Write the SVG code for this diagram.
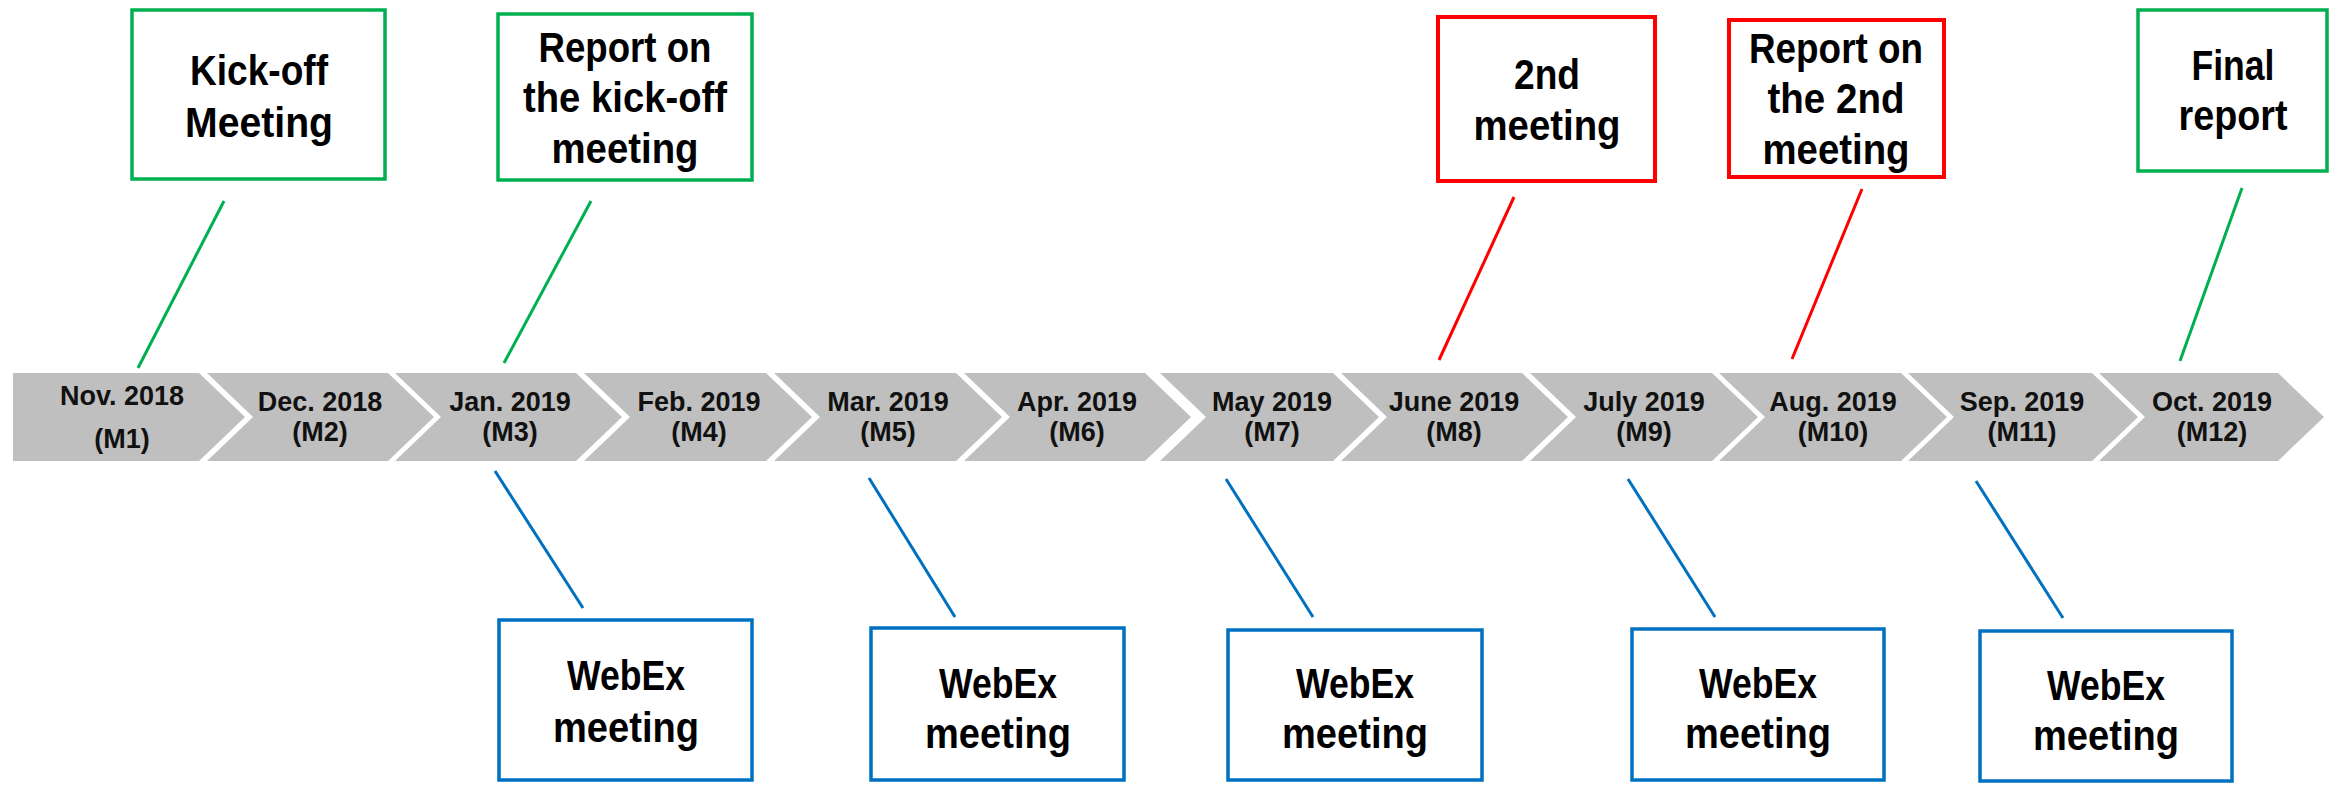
<svg xmlns="http://www.w3.org/2000/svg" width="2340" height="786" viewBox="0 0 2340 786">
<style>
.bg{fill:#ffffff}
.chev{fill:#bfbfbf}
.ct{font-family:"Liberation Sans","Arial",sans-serif;font-weight:bold;font-size:27px;fill:#111;text-anchor:middle}
.bt{font-family:"Liberation Sans","Arial",sans-serif;font-weight:bold;font-size:42px;fill:#000;text-anchor:middle}
.g{fill:#fff;stroke:#00b050;stroke-width:3.5}
.r{fill:#fff;stroke:#ff0000;stroke-width:4}
.b{fill:#fff;stroke:#0070c0;stroke-width:3.5}
.lg{stroke:#00b050;stroke-width:3;fill:none}
.lr{stroke:#ff0000;stroke-width:3;fill:none}
.lb{stroke:#0070c0;stroke-width:3;fill:none}
</style>
<rect class="bg" x="0" y="0" width="2340" height="786"/>
<g id="timeline">
<polygon class="chev" points="13,373 199,373 245,417 199,461 13,461"/>
<polygon class="chev" points="207,373 388,373 434,417 388,461 207,461 253,417"/>
<polygon class="chev" points="395,373 576,373 622,417 576,461 395,461 441,417"/>
<polygon class="chev" points="584,373 766,373 812,417 766,461 584,461 630,417"/>
<polygon class="chev" points="774,373 956,373 1002,417 956,461 774,461 820,417"/>
<polygon class="chev" points="964,373 1145,373 1191,417 1145,461 964,461 1010,417"/>
<polygon class="chev" points="1160,373 1333,373 1379,417 1333,461 1160,461 1206,417"/>
<polygon class="chev" points="1341,373 1522,373 1568,417 1522,461 1341,461 1387,417"/>
<polygon class="chev" points="1530,373 1712,373 1758,417 1712,461 1530,461 1576,417"/>
<polygon class="chev" points="1719,373 1901,373 1947,417 1901,461 1719,461 1765,417"/>
<polygon class="chev" points="1908,373 2092,373 2138,417 2092,461 1908,461 1954,417"/>
<polygon class="chev" points="2099,373 2278,373 2324,417 2278,461 2099,461 2145,417"/>
<text class="ct" x="122" y="405">Nov. 2018</text><text class="ct" x="122" y="448">(M1)</text>
<text class="ct" x="320" y="411">Dec. 2018</text><text class="ct" x="320" y="441">(M2)</text>
<text class="ct" x="510" y="411">Jan. 2019</text><text class="ct" x="510" y="441">(M3)</text>
<text class="ct" x="699" y="411">Feb. 2019</text><text class="ct" x="699" y="441">(M4)</text>
<text class="ct" x="888" y="411">Mar. 2019</text><text class="ct" x="888" y="441">(M5)</text>
<text class="ct" x="1077" y="411">Apr. 2019</text><text class="ct" x="1077" y="441">(M6)</text>
<text class="ct" x="1272" y="411">May 2019</text><text class="ct" x="1272" y="441">(M7)</text>
<text class="ct" x="1454" y="411">June 2019</text><text class="ct" x="1454" y="441">(M8)</text>
<text class="ct" x="1644" y="411">July 2019</text><text class="ct" x="1644" y="441">(M9)</text>
<text class="ct" x="1833" y="411">Aug. 2019</text><text class="ct" x="1833" y="441">(M10)</text>
<text class="ct" x="2022" y="411">Sep. 2019</text><text class="ct" x="2022" y="441">(M11)</text>
<text class="ct" x="2212" y="411">Oct. 2019</text><text class="ct" x="2212" y="441">(M12)</text>
</g>
<g id="connectors">
<line class="lg" x1="224" y1="201" x2="138" y2="368"/>
<line class="lg" x1="591" y1="201" x2="504" y2="363"/>
<line class="lr" x1="1514" y1="197" x2="1439" y2="360"/>
<line class="lr" x1="1862" y1="189" x2="1792" y2="359"/>
<line class="lg" x1="2242" y1="188" x2="2180" y2="361"/>
<line class="lb" x1="495" y1="471" x2="583" y2="608"/>
<line class="lb" x1="869" y1="478" x2="955" y2="617"/>
<line class="lb" x1="1226" y1="479" x2="1313" y2="617"/>
<line class="lb" x1="1628" y1="479" x2="1715" y2="617"/>
<line class="lb" x1="1976" y1="481" x2="2063" y2="618"/>
</g>
<g id="kickoff"><rect class="g" x="132" y="10" width="253" height="169"/>
<text class="bt" x="259" y="85" textLength="138" lengthAdjust="spacingAndGlyphs">Kick-off</text><text class="bt" x="259" y="137" textLength="148" lengthAdjust="spacingAndGlyphs">Meeting</text></g>
<g id="report1"><rect class="g" x="498" y="14" width="254" height="166"/>
<text class="bt" x="625" y="62" textLength="173" lengthAdjust="spacingAndGlyphs">Report on</text><text class="bt" x="625" y="112" textLength="204" lengthAdjust="spacingAndGlyphs">the kick-off</text><text class="bt" x="625" y="163" textLength="147" lengthAdjust="spacingAndGlyphs">meeting</text></g>
<g id="meeting2"><rect class="r" x="1438" y="17" width="217" height="164"/>
<text class="bt" x="1547" y="89" textLength="66" lengthAdjust="spacingAndGlyphs">2nd</text><text class="bt" x="1547" y="140" textLength="147" lengthAdjust="spacingAndGlyphs">meeting</text></g>
<g id="report2"><rect class="r" x="1729" y="20" width="215" height="157"/>
<text class="bt" x="1836" y="63" textLength="174" lengthAdjust="spacingAndGlyphs">Report on</text><text class="bt" x="1836" y="113" textLength="137" lengthAdjust="spacingAndGlyphs">the 2nd</text><text class="bt" x="1836" y="164" textLength="147" lengthAdjust="spacingAndGlyphs">meeting</text></g>
<g id="final"><rect class="g" x="2138" y="10" width="189" height="161"/>
<text class="bt" x="2233" y="80" textLength="83" lengthAdjust="spacingAndGlyphs">Final</text><text class="bt" x="2233" y="130" textLength="109" lengthAdjust="spacingAndGlyphs">report</text></g>
<g id="webex1"><rect class="b" x="499" y="620" width="253" height="160"/>
<text class="bt" x="626" y="690" textLength="118" lengthAdjust="spacingAndGlyphs">WebEx</text><text class="bt" x="626" y="742" textLength="146" lengthAdjust="spacingAndGlyphs">meeting</text></g>
<g id="webex2"><rect class="b" x="871" y="628" width="253" height="152"/>
<text class="bt" x="998" y="698" textLength="118" lengthAdjust="spacingAndGlyphs">WebEx</text><text class="bt" x="998" y="748" textLength="146" lengthAdjust="spacingAndGlyphs">meeting</text></g>
<g id="webex3"><rect class="b" x="1228" y="630" width="254" height="150"/>
<text class="bt" x="1355" y="698" textLength="118" lengthAdjust="spacingAndGlyphs">WebEx</text><text class="bt" x="1355" y="748" textLength="146" lengthAdjust="spacingAndGlyphs">meeting</text></g>
<g id="webex4"><rect class="b" x="1632" y="629" width="252" height="151"/>
<text class="bt" x="1758" y="698" textLength="118" lengthAdjust="spacingAndGlyphs">WebEx</text><text class="bt" x="1758" y="748" textLength="146" lengthAdjust="spacingAndGlyphs">meeting</text></g>
<g id="webex5"><rect class="b" x="1980" y="631" width="252" height="150"/>
<text class="bt" x="2106" y="700" textLength="118" lengthAdjust="spacingAndGlyphs">WebEx</text><text class="bt" x="2106" y="750" textLength="146" lengthAdjust="spacingAndGlyphs">meeting</text></g>
</svg>
